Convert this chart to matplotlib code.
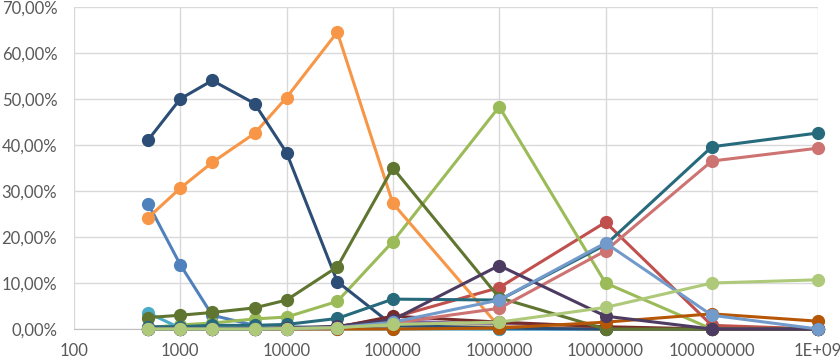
import matplotlib
matplotlib.use("Agg")
import matplotlib.pyplot as plt
from matplotlib.ticker import FuncFormatter, FixedLocator

# x positions (log scale)
x_values = [500, 1000, 2000, 5000, 10000, 30000, 100000, 1000000, 10000000, 100000000, 1000000000]
x_ticks = [100, 1000, 10000, 100000, 1000000, 10000000, 100000000, 1000000000]
x_tick_labels = ["100", "1000", "10000", "100000", "1000000", "10000000", "100000000", "1E+09"]
y_ticks = [0, 10, 20, 30, 40, 50, 60, 70]

# series values in percent
blue = [27.2, 14.0, 3.0, 0.8, 0.5, 0.3, 0.2, 0.0, 0.0, 0.0, 0.0]
red = [0.0, 0.0, 0.0, 0.0, 0.1, 0.5, 2.5, 9.0, 23.2, 0.8, 0.0]
green = [0.3, 0.9, 1.3, 2.2, 2.6, 6.0, 19.0, 48.3, 10.0, 0.0, 0.0]
purple = [0.0, 0.0, 0.0, 0.0, 0.1, 0.4, 1.8, 1.0, 0.2, 0.0, 0.0]
aqua = [3.5, 0.2, 0.1, 0.0, 0.0, 0.0, 0.0, 0.0, 0.0, 0.0, 0.0]
orange = [24.2, 30.6, 36.2, 42.5, 50.3, 64.5, 27.3, 0.5, 0.0, 0.0, 0.0]
dark_blue = [41.1, 50.0, 54.0, 49.0, 38.3, 10.3, 0.8, 0.2, 0.0, 0.0, 0.0]
dark_red = [0.0, 0.0, 0.0, 0.1, 0.2, 0.4, 2.8, 1.5, 0.5, 0.0, 0.0]
dark_green = [2.5, 3.0, 3.6, 4.6, 6.3, 13.5, 35.0, 6.8, 0.0, 0.0, 0.0]
dark_purple = [0.0, 0.0, 0.0, 0.0, 0.2, 0.6, 2.0, 13.8, 2.8, 0.0, 0.0]
dark_aqua = [0.5, 0.5, 0.8, 0.8, 1.0, 2.3, 6.5, 6.3, 18.3, 39.6, 42.6]
dark_orange = [0.0, 0.0, 0.0, 0.0, 0.0, 0.0, 0.0, 0.2, 1.5, 3.3, 1.7]
light_blue = [0.0, 0.0, 0.0, 0.0, 0.1, 0.3, 1.5, 6.3, 18.7, 3.0, 0.0]
light_red = [0.0, 0.0, 0.0, 0.0, 0.1, 0.3, 1.3, 4.5, 17.0, 36.5, 39.3]
light_green = [0.0, 0.0, 0.0, 0.0, 0.1, 0.3, 1.0, 1.5, 4.7, 10.0, 10.7]
tan = [0.0, 0.0, 0.1, 0.2, 0.3, 0.5, 0.8, 0.6, 0.2, 0.0, 0.0]

# drawing order matters for which dot ends up on top near 0%
series = [
    (blue, "#4F81BD"),
    (red, "#C0504D"),
    (green, "#9BBB59"),
    (purple, "#8064A2"),
    (tan, "#C4BD97"),
    (aqua, "#4BACC6"),
    (orange, "#F79646"),
    (dark_blue, "#2C4D75"),
    (dark_red, "#772C2A"),
    (dark_green, "#5F7530"),
    (dark_aqua, "#276A7C"),
    (dark_orange, "#B65708"),
    (light_red, "#CD7371"),
    (dark_purple, "#4D3B62"),
    (light_blue, "#729ACA"),
    (light_green, "#AFC97A"),
]

plt.rcParams['font.family'] = ['Lato', 'DejaVu Sans']

fig = plt.figure(figsize=(8.4, 3.6), dpi=100)
ax = fig.add_axes([0.088, 0.086, 0.886, 0.895])

for values, color in series:
    ax.plot(x_values, values, color=color, linewidth=2.2, marker='o',
            markersize=8.5, solid_joinstyle='round', clip_on=False, zorder=3)

ax.set_xscale('log')
ax.set_xlim(100, 1e9)
ax.set_ylim(0, 70)
ax.xaxis.set_major_locator(FixedLocator(x_ticks))
ax.xaxis.set_minor_locator(FixedLocator([]))
ax.set_xticklabels(x_tick_labels)
ax.set_yticks(y_ticks)
ax.yaxis.set_major_formatter(FuncFormatter(lambda v, p: f"{v:.2f}%".replace(".", ",")))

ax.grid(True, color="#D9D9D9", linewidth=1.0, zorder=0)
for side in ["top", "right", "left"]:
    ax.spines[side].set_visible(False)
ax.spines["bottom"].set_color("#BFBFBF")
ax.tick_params(axis='both', length=0, labelsize=12, colors="#595959")
ax.tick_params(axis='x', pad=10)
ax.tick_params(axis='y', pad=12)

fig.savefig("out.png", dpi=100)
